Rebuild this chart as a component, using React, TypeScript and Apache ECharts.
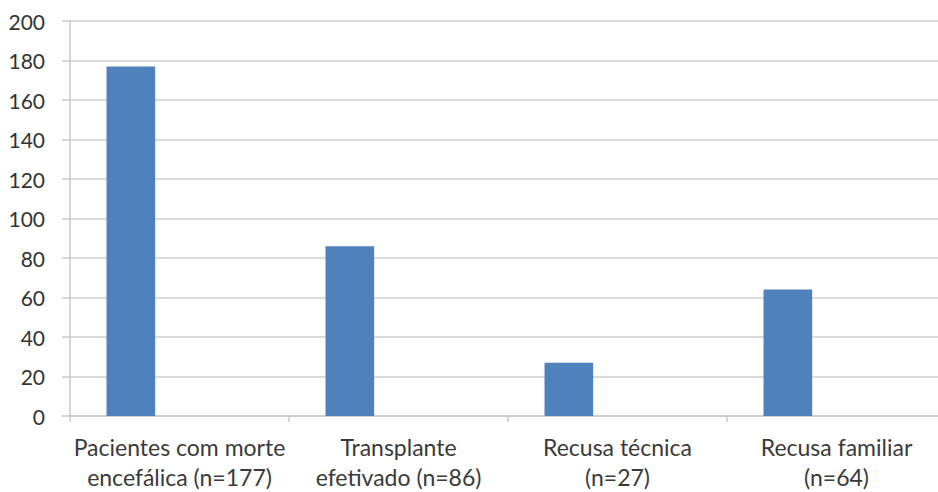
import React, { useEffect, useRef } from "react";
import * as echarts from "echarts";

const categories = [
  "Pacientes com morte\nencefálica (n=177)",
  "Transplante\nefetivado (n=86)",
  "Recusa técnica\n(n=27)",
  "Recusa familiar\n(n=64)",
];
const values = [177, 86, 27, 64];
const emptySeries = [null, null, null, null];
const yTicks = { min: 0, max: 200, interval: 20 };

export default function App() {
  const ref = useRef<HTMLDivElement>(null);
  useEffect(() => {
    if (!ref.current) return;
    document.body.style.overflow = "hidden";
    const chart = echarts.init(ref.current, undefined, { renderer: "svg" });
    const font = "Lato, 'Open Sans', sans-serif";
    chart.setOption({
      animation: false,
      backgroundColor: "#ffffff",
      grid: { left: 70, top: 21, bottom: 76, right: 4, containLabel: false },
      xAxis: {
        type: "category",
        data: categories,
        axisLine: { show: true, lineStyle: { color: "#c8c8c8", width: 1.5 } },
        axisTick: { show: true, length: 6, lineStyle: { color: "#c8c8c8", width: 1.5 } },
        axisLabel: {
          interval: 0,
          margin: 16,
          color: "#3a3a3a",
          fontSize: 23,
          lineHeight: 30,
          fontFamily: font,
        },
      },
      yAxis: {
        type: "value",
        min: yTicks.min,
        max: yTicks.max,
        interval: yTicks.interval,
        axisLine: { show: true, lineStyle: { color: "#c8c8c8", width: 1.5 } },
        axisTick: { show: true, length: 8, lineStyle: { color: "#c8c8c8", width: 1.5 } },
        splitLine: { show: true, lineStyle: { color: "#d0d0d0", width: 1.5 } },
        axisLabel: { margin: 25, color: "#333333", fontSize: 21, fontFamily: font },
      },
      series: [
        {
          type: "bar",
          data: values,
          barGap: "0%",
          barCategoryGap: "33.333%",
          itemStyle: { color: "#4f81bd" },
        },
        { type: "bar", data: emptySeries, barGap: "0%", barCategoryGap: "33.333%" },
        { type: "bar", data: emptySeries, barGap: "0%", barCategoryGap: "33.333%" },
      ],
    });
    return () => chart.dispose();
  }, []);
  return (
    <div
      ref={ref}
      style={{ position: "fixed", left: 0, top: 0, width: 950, height: 492 }}
    />
  );
}
